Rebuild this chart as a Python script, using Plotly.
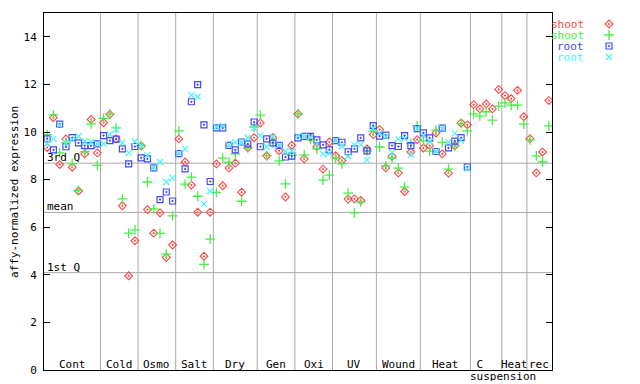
import plotly.graph_objects as go

# ---------------- data ----------------
group_labels = ["Cont", "Cold", "Osmo", "Salt", "Dry", "Gen", "Oxi", "UV",
                "Wound", "Heat", "C", "Heat", "rec"]
group_sizes = [9, 6, 6, 6, 7, 6, 6, 7, 7, 8, 5, 4, 4]
second_row_labels = ["", "", "", "", "", "", "", "", "", "", "suspension", "", ""]

shoot_red = [9.35, 10.6, 8.63, 9.71, 8.52, 7.52, 9.08, 10.53, 9.12,
             10.39, 10.74, 9.71, 6.9, 3.96, 5.43,
             9.41, 6.74, 5.75, 6.6, 4.73, 5.25,
             9.71, 8.74, 7.77, 6.63, 4.78, 6.63,
             8.66, 7.74, 8.49, 8.69, 7.47, 9.34, 9.76,
             10.38, 9.0, 9.76, 9.21, 7.27, 9.44,
             10.76, 8.87, 9.76, 9.39, 8.44, 9.58,
             9.0, 8.8, 7.18, 7.19, 7.13, 9.29, 9.89,
             10.1, 8.49, 8.98, 8.28, 7.5, 9.16, 9.68,
             9.33, 9.43, 9.96, 9.08, 8.27, 9.42, 10.38, 10.3,
             11.15, 10.97, 11.18, 10.97, 11.79,
             11.53, 11.4, 11.75, 10.64,
             9.72, 8.28, 9.16, 11.32]
shoot_green = [9.89, 10.72, 9.12, 9.54, 8.67, 7.55, 9.17, 10.34, 8.6,
               10.57, 10.76, 10.17, 7.19, 5.75, 5.89,
               9.44, 7.9, 6.77, 5.74, 4.87, 6.48,
               10.05, 7.81, 8.1, 7.3, 4.44, 5.5,
               7.46, 8.9, 8.73, 9.08, 7.09, 9.33, 10.21,
               10.71, 9.01, 9.54, 8.79, 7.82, 9.02,
               10.76, 9.04, 9.68, 9.29, 7.98, 8.19,
               8.9, 8.66, 7.43, 6.6, 7.06, 9.21, 10.03,
               9.37, 8.58, 8.9, 8.48, 7.68, 9.52, 10.26,
               9.63, 9.2, 10.08, 9.56, 8.44, 9.42, 10.35, 10.05,
               10.76, 10.67, 10.85, 10.5, 11.09,
               11.22, 11.13, 11.13, 10.33,
               9.67, 9.0, 8.74, 10.26]
root_blue = [9.71, 9.25, 10.33, 9.38, 9.76, 9.54, 9.43, 9.43, 9.5,
             9.85, 9.64, 9.7, 9.29, 8.66, 9.39,
             8.91, 8.87, 8.49, 7.16, 7.48, 7.1,
             9.09, 8.45, 11.27, 11.99, 10.3, 7.92,
             10.17, 10.17, 9.44, 9.25, 9.58, 9.5, 10.42,
             9.38, 9.71, 9.54, 9.44, 8.95, 8.99,
             9.75, 9.82, 9.82, 9.67, 9.46, 9.25,
             9.64, 9.57, 9.17, 9.29, 9.75, 9.21, 10.27,
             9.83, 9.87, 9.43, 9.39, 9.85, 9.43, 10.14,
             9.96, 9.75, 9.18, 10.16, 9.33, 9.62, 9.76, 8.53,
             None, None, None, None, None,
             None, None, None, None,
             None, None, None, None]
root_cyan = [9.5, 9.72, 10.3, 9.55, 9.7, 9.82, 9.6, 9.58, 9.5,
             9.5, 9.9, 10.1, 9.55, 9.12, 9.6,
             9.42, 9.03, 8.5, 8.74, 7.9, 8.07,
             9.1, 9.29, 11.55, 11.48, 6.98, 7.51,
             10.2, 10.26, 9.45, 9.57, 9.57, 9.76, 10.17,
             9.85, 9.38, 9.8, 9.44, 9.19, 9.2,
             9.83, 9.82, 9.78, 9.5, 9.08, 9.1,
             9.64, 9.4, 8.98, 9.46, 9.47, 8.83, 10.15,
             9.95, 9.8, 9.12, 9.71, 9.72, 9.04, 10.15,
             9.85, 9.6, 9.18, 10.15, 9.57, 9.94, 9.64, 8.47,
             None, None, None, None, None,
             None, None, None, None,
             None, None, None, None]

quartile_names = ["3rd Q", "mean", "1st Q"]
quartile_values = [8.69, 6.62, 4.09]
y_ticks = [0, 2, 4, 6, 8, 10, 12, 14]

series_names = ["shoot", "shoot", "root", "root"]
series_values = [shoot_red, shoot_green, root_blue, root_cyan]

# ---------------- styles ----------------
W, H = 640, 384
PAGE_OFF = 8   # the html page body offsets the figure by 8px
FONT = "DejaVu Sans Mono"
colors = ["#ff4646", "#46f046", "#4646ff", "#46f5f5"]
symbols = ["diamond-open-dot", "cross-thin-open", "square-open-dot", "x-thin-open"]
msizes = [6, 7, 6, 6]
mlw = [1.1, 1.3, 1.2, 1.2]


def fx(px):
    return (px - PAGE_OFF) / W


def fy(py):
    return (H - (py - PAGE_OFF)) / H


px_left, px_right, px_top, px_bottom = 44, 552, 13, 370
xdom = [fx(px_left), fx(px_right)]
ydom = [fy(px_bottom), fy(px_top)]

n = len(shoot_red)
xs = list(range(n))

fig = go.Figure()
for name, vals, c, s, ms, lw in zip(series_names, series_values, colors, symbols, msizes, mlw):
    fig.add_trace(go.Scatter(
        x=xs, y=vals, mode="markers", name=name, showlegend=False,
        marker=dict(symbol=s, size=ms, color=c, line=dict(color=c, width=lw)),
        xaxis="x", yaxis="y"))

shapes = []
annotations = []
lab_font = dict(family=FONT, size=11, color="black")

# group separators and labels
start = 0
for i, (lab, cnt) in enumerate(zip(group_labels, group_sizes)):
    end = start + cnt
    if i < len(group_sizes) - 1:
        shapes.append(dict(type="line", xref="x", yref="y domain",
                           x0=end - 0.5, x1=end - 0.5, y0=0, y1=1,
                           line=dict(color="#aaaaaa", width=1), layer="below"))
    center = (start + end - 1) / 2
    if lab == "C":
        annotations.append(dict(x=start - 0.5, y=fy(364.5), xref="x", yref="paper",
                                text=" " + lab, showarrow=False, xanchor="left", yanchor="middle",
                                xshift=-2, height=11, font=lab_font))
    else:
        annotations.append(dict(x=center, y=fy(364.5), xref="x", yref="paper",
                                text=lab, showarrow=False, xanchor="center", yanchor="middle",
                                height=11, font=lab_font))
    if second_row_labels[i]:
        annotations.append(dict(x=start - 0.5, y=fy(376), xref="x", yref="paper",
                                text=second_row_labels[i], showarrow=False, xanchor="left",
                                yanchor="middle", xshift=-2, height=10, font=lab_font))
    start = end

# quartile lines
for qn, qv in zip(quartile_names, quartile_values):
    shapes.append(dict(type="line", xref="x domain", yref="y", x0=0, x1=1, y0=qv, y1=qv,
                       line=dict(color="#aaaaaa", width=1), layer="below"))
    annotations.append(dict(x=fx(px_left + 1), y=qv, xref="paper", yref="y", text=qn,
                            showarrow=False, xanchor="left", yanchor="bottom", yshift=-3,
                            font=lab_font))

# y-axis title
annotations.append(dict(x=fx(14), y=fy(192), xref="paper", yref="paper",
                        text="affy-normalized expression", textangle=-90, showarrow=False,
                        xanchor="center", yanchor="middle", font=lab_font))

# custom legend: text on the left, symbol on the right
LEG_X0, LEG_X1, LEG_Y0, LEG_Y1 = 590, 630, 14, 68
legend_rows_px = [24, 35, 46, 57]
for name, c, s, ms, lw, ry in zip(series_names, colors, symbols, msizes, mlw, legend_rows_px):
    annotations.append(dict(x=fx(586), y=fy(ry), xref="paper", yref="paper",
                            text=name, showarrow=False, xanchor="right", yanchor="middle",
                            height=10, font=dict(family=FONT, size=11, color=c)))
    fig.add_trace(go.Scatter(
        x=[609], y=[ry], mode="markers", showlegend=False, hoverinfo="skip",
        marker=dict(symbol=s, size=ms, color=c, line=dict(color=c, width=lw)),
        xaxis="x2", yaxis="y2", cliponaxis=False))

fig.update_layout(
    width=W, height=H,
    margin=dict(l=0, r=0, t=0, b=0, autoexpand=False),
    paper_bgcolor="white", plot_bgcolor="rgba(0,0,0,0)",
    showlegend=False,
    font=dict(family=FONT, size=11, color="black"),
    xaxis=dict(domain=xdom, range=[-0.5, n - 0.5], showticklabels=False, ticks="",
               showgrid=False, zeroline=False, showline=True, linecolor="black",
               linewidth=1, mirror=True, anchor="y", fixedrange=True),
    yaxis=dict(domain=ydom, range=[0, 15], tickvals=y_ticks, ticks="inside", ticklen=6,
               tickcolor="black", showgrid=False, zeroline=False, showline=True,
               linecolor="black", linewidth=1, mirror="ticks", anchor="x",
               ticklabelstandoff=4, automargin=False,
               tickfont=dict(family=FONT, size=11, color="black")),
    xaxis2=dict(domain=[fx(LEG_X0), fx(LEG_X1)], range=[LEG_X0, LEG_X1], visible=False,
                anchor="y2", fixedrange=True),
    yaxis2=dict(domain=[fy(LEG_Y1), fy(LEG_Y0)], range=[LEG_Y1, LEG_Y0], visible=False,
                anchor="x2", fixedrange=True),
    shapes=shapes,
    annotations=annotations,
)

fig.write_html("out.html")
